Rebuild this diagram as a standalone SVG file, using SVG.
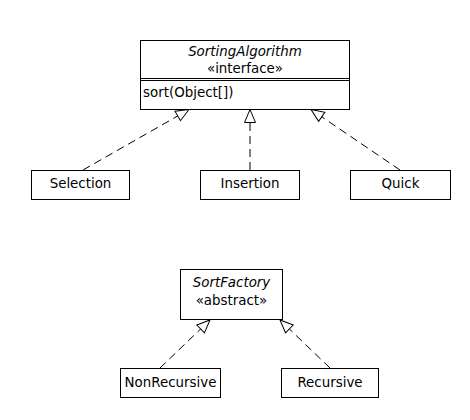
<svg xmlns="http://www.w3.org/2000/svg" width="470" height="420" viewBox="0 0 470 420">
<defs>
<style>
.box{fill:#fff;stroke:#000;stroke-width:1}
.t{font-family:"DejaVu Sans","Liberation Sans",sans-serif;font-size:13.4px;fill:#000}
.c{text-anchor:middle}
.i{font-style:italic}
.dep{stroke:#000;stroke-width:1;fill:none;stroke-dasharray:8 5;marker-end:url(#tri)}
</style>
<marker id="tri" markerUnits="userSpaceOnUse" markerWidth="15" markerHeight="14" refX="13" refY="6" orient="auto" overflow="visible">
<path d="M0,0.5 L13,6 L0,11.5 Z" fill="#fff" stroke="#000" stroke-width="1" stroke-dasharray="none"/>
</marker>
</defs>
<rect width="470" height="420" fill="#fff"/>
<g id="connectors">
<line class="dep" x1="83" y1="170" x2="189" y2="109.5"/>
<line class="dep" x1="250" y1="170" x2="250" y2="109.5"/>
<line class="dep" x1="400" y1="170" x2="311" y2="109.5"/>
<line class="dep" x1="160" y1="368" x2="210" y2="320"/>
<line class="dep" x1="330" y1="368" x2="280" y2="320"/>
</g>
<g id="SortingAlgorithm">
<rect class="box" x="140.5" y="40.5" width="209" height="69"/>
<line x1="140" y1="78.5" x2="350" y2="78.5" stroke="#000"/>
<line x1="140" y1="80.5" x2="350" y2="80.5" stroke="#000"/>
<text class="t c i" x="245" y="56">SortingAlgorithm</text>
<text class="t c" x="245" y="73">«interface»</text>
<text class="t" x="143" y="97">sort(Object[])</text>
</g>
<g id="Selection">
<rect class="box" x="31.5" y="170.5" width="98" height="29"/>
<text class="t c" x="80.5" y="188">Selection</text>
</g>
<g id="Insertion">
<rect class="box" x="200.5" y="170.5" width="99" height="29"/>
<text class="t c" x="250" y="188">Insertion</text>
</g>
<g id="Quick">
<rect class="box" x="350.5" y="170.5" width="100" height="29"/>
<text class="t c" x="400.5" y="188">Quick</text>
</g>
<g id="SortFactory">
<rect class="box" x="180.5" y="269.5" width="102" height="50"/>
<text class="t c i" x="231.5" y="287">SortFactory</text>
<text class="t c" x="231.5" y="305">«abstract»</text>
</g>
<g id="NonRecursive">
<rect class="box" x="120.5" y="368.5" width="100" height="29"/>
<text class="t c" x="170.5" y="387">NonRecursive</text>
</g>
<g id="Recursive">
<rect class="box" x="281.5" y="368.5" width="97" height="29"/>
<text class="t c" x="330" y="387">Recursive</text>
</g>
</svg>
